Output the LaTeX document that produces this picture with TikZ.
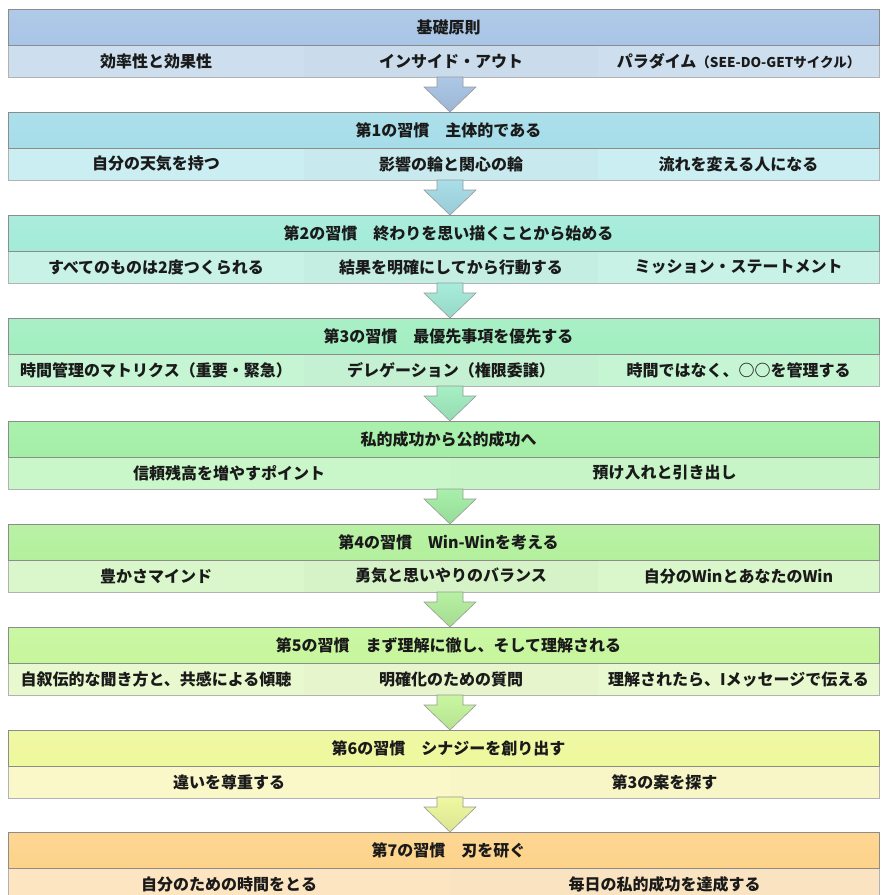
\documentclass[tikz,border=0pt]{standalone}
\usepackage{fontspec}
\newfontfamily\jpfam{Noto Sans CJK JP}
\newcommand\jpb{\jpfam\bfseries\fontsize{16}{19}\selectfont}
\usetikzlibrary{calc}
\definecolor{H0}{HTML}{A9C5E6}\definecolor{S0}{HTML}{CDDFEF}
\definecolor{H1}{HTML}{A5DDE9}\definecolor{S1}{HTML}{CBEEF2}
\definecolor{H2}{HTML}{A3EBD9}\definecolor{S2}{HTML}{C7F2E5}
\definecolor{H3}{HTML}{A2EEC1}\definecolor{S3}{HTML}{C6F5D4}
\definecolor{H4}{HTML}{A3EFA6}\definecolor{S4}{HTML}{C9F7C9}
\definecolor{H5}{HTML}{B3F09D}\definecolor{S5}{HTML}{D9F7CB}
\definecolor{H6}{HTML}{C6F69C}\definecolor{S6}{HTML}{E9F9CF}
\definecolor{H7}{HTML}{EEF89C}\definecolor{S7}{HTML}{FAF7C9}
\definecolor{H8}{HTML}{FDD38A}\definecolor{S8}{HTML}{FDE5C2}
\definecolor{txt}{HTML}{1A1A1A}
\tikzset{
  hdr/.style={draw=black!45, line width=0.8pt, anchor=north west, outer sep=0pt,
    minimum width=871pt, minimum height=36pt, inner sep=0pt, font=\jpb, text=txt,
    execute at begin node={\hspace*{10pt}}},
  cell/.style={anchor=north west, outer sep=0pt, minimum height=32pt, inner sep=0pt,
    font=\jpb, text=txt},
  frame/.style={draw=black!30, line width=0.7pt},
  flow/.style={draw=black!40, line width=0.6pt}
}
\newcommand\blkthree[6]{%
  \node[hdr, top color=H#1!92!white, bottom color=H#1] (h#1) at (8,#2) {#3};
  \node[cell, minimum width=296pt, fill=S#1] (s#1a) at (h#1.south west) {#4};
  \node[cell, minimum width=294pt, fill=S#1!98.5!black] (s#1b) at (s#1a.north east) {#5};
  \node[cell, minimum width=281pt, fill=S#1] (s#1c) at (s#1b.north east) {#6};
  \draw[frame] (s#1a.north west) -- (s#1a.south west) -- (s#1c.south east) -- (s#1c.north east);
  \draw[draw=black!45, line width=0.8pt] (h#1.north west) rectangle (h#1.south east);
}
\newcommand\blktwo[5]{%
  \node[hdr, top color=H#1!92!white, bottom color=H#1] (h#1) at (8,#2) {#3};
  \node[cell, minimum width=442pt, fill=S#1] (s#1a) at (h#1.south west) {#4};
  \node[cell, minimum width=429pt, fill=S#1!99!black] (s#1b) at (s#1a.north east) {#5};
  \draw[frame] (s#1a.north west) -- (s#1a.south west) -- (s#1b.south east) -- (s#1b.north east);
  \draw[draw=black!45, line width=0.8pt] (h#1.north west) rectangle (h#1.south east);
}
% block arrow from block #1 down to the header of block #2
\newcommand\blkarrow[2]{%
  \draw[flow, top color=H#1!95!white, bottom color=H#1!92!black]
    ($(h#2.north west)+(442,0)$) -- ++(-26,-25) -- ++(13,0) -- ++(0,-10)
    -- ++(26,0) -- ++(0,10) -- ++(13,0) -- cycle;
}
\begin{document}
\begin{tikzpicture}[x=1pt,y=-1pt]
\useasboundingbox[fill=white] (0,0) rectangle (882,895);
\blkthree{0}{9}{基礎原則}{効率性と効果性}{インサイド・アウト}{パラダイム{\fontsize{13.5}{15}\selectfont（SEE-DO-GETサイクル）}}
\blkthree{1}{112}{第1の習慣　主体的である}{自分の天気を持つ}{影響の輪と関心の輪}{流れを変える人になる}
\blkthree{2}{215}{第2の習慣　終わりを思い描くことから始める}{すべてのものは2度つくられる}{結果を明確にしてから行動する}{ミッション・ステートメント}
\blkthree{3}{318}{第3の習慣　最優先事項を優先する}{時間管理のマトリクス（重要・緊急）}{デレゲーション（権限委譲）}{時間ではなく、○○を管理する}
\blktwo{4}{421}{私的成功から公的成功へ}{信頼残高を増やすポイント}{預け入れと引き出し}
\blkthree{5}{524}{第4の習慣　Win-Winを考える}{豊かさマインド}{勇気と思いやりのバランス}{自分のWinとあなたのWin}
\blkthree{6}{627}{第5の習慣　まず理解に徹し、そして理解される}{自叙伝的な聞き方と、共感による傾聴}{明確化のための質問}{理解されたら、Iメッセージで伝える}
\blktwo{7}{730}{第6の習慣　シナジーを創り出す}{違いを尊重する}{第3の案を探す}
\blktwo{8}{832}{第7の習慣　刃を研ぐ}{自分のための時間をとる}{毎日の私的成功を達成する}
\blkarrow{0}{1}
\blkarrow{1}{2}
\blkarrow{2}{3}
\blkarrow{3}{4}
\blkarrow{4}{5}
\blkarrow{5}{6}
\blkarrow{6}{7}
\blkarrow{7}{8}
\end{tikzpicture}
\end{document}
